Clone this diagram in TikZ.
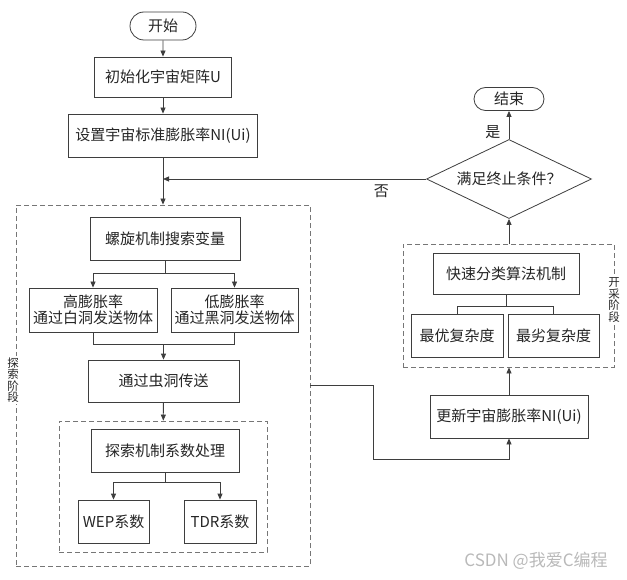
\documentclass[tikz,border=0pt]{standalone}
\usepackage{fontspec}
\setmainfont{Noto Sans CJK SC}
\usetikzlibrary{
  arrows.meta,
  positioning,
  shapes.geometric,
  shapes.misc
}
\definecolor{linegray}{RGB}{62,62,62}
\definecolor{dashgray}{RGB}{118,118,118}
\definecolor{textgray}{RGB}{38,38,38}

\begin{document}
\begin{tikzpicture}[x=1pt, y=-1pt, font=\fontsize{15}{16}\selectfont,
            procbox/.style={rectangle, draw=linegray, line width=0.8pt, fill=white, text=textgray, align=center, inner sep=2pt},
            termbox/.style={rounded rectangle, draw=linegray, line width=0.8pt, fill=white, text=textgray, inner sep=2pt},
            decision/.style={diamond, draw=linegray, line width=0.8pt, fill=white, text=textgray, aspect=2.1, inner sep=0pt},
            stagebox/.style={rectangle, draw=dashgray, line width=0.8pt, dash pattern=on 5pt off 3pt},
            stagelabel/.style={fill=white, text=textgray, font=\fontsize{11.5}{11.5}\selectfont, align=center, inner sep=1pt},
            arr/.style={draw=linegray, line width=0.8pt, -{Triangle[length=6pt, width=5pt]}},
            link/.style={draw=linegray, line width=0.8pt}]
            \useasboundingbox (0,0) rectangle (627,580);
            % main column
            \node [termbox, minimum width=70pt, minimum height=28pt] (start) at (163,26) {开始};
            \node [procbox, minimum width=137pt, minimum height=40pt] (init) at (163,77) {初始化宇宙矩阵U};
            \node [procbox, minimum width=189pt, minimum height=43pt] (setni) at (163,135.5) {设置宇宙标准膨胀率NI(Ui)};
            \node [decision, minimum width=165pt, minimum height=79pt] (cond) at (509,179) {满足终止条件？};
            \node [termbox, minimum width=74pt, minimum height=23pt] (stop) at (509,99) {结束};
            % exploration stage
            \node [stagebox, minimum width=294pt, minimum height=361pt] (explore) at (163,385.5) {};
            \node [stagelabel] (explorelbl) at (13,380) {探\\索\\阶\\段};
            \node [procbox, minimum width=150pt, minimum height=43pt] (spiral) at (165,238.5) {螺旋机制搜索变量};
            \node [procbox, minimum width=128pt, minimum height=44pt] (high) at (93,310) {高膨胀率\\通过白洞发送物体};
            \node [procbox, minimum width=127pt, minimum height=44pt] (low) at (234.5,310) {低膨胀率\\通过黑洞发送物体};
            \node [procbox, minimum width=151pt, minimum height=42pt] (worm) at (163.5,381) {通过虫洞传送};
            \node [stagebox, minimum width=208pt, minimum height=131pt] (coefgrp) at (163,486.5) {};
            \node [procbox, minimum width=148pt, minimum height=43pt] (coef) at (165,450.5) {探索机制系数处理};
            \node [procbox, minimum width=71pt, minimum height=43pt] (wep) at (113.5,521.5) {WEP系数};
            \node [procbox, minimum width=72pt, minimum height=43pt] (tdr) at (220,521.5) {TDR系数};
            % exploitation stage
            \node [stagebox, minimum width=211pt, minimum height=123pt] (exploit) at (508.5,305.5) {};
            \node [stagelabel] (exploitlbl) at (614,300) {开\\采\\阶\\段};
            \node [procbox, minimum width=146pt, minimum height=41pt] (quick) at (506,273.5) {快速分类算法机制};
            \node [procbox, minimum width=92pt, minimum height=43pt] (best) at (457,335.5) {最优复杂度};
            \node [procbox, minimum width=91pt, minimum height=43pt] (worst) at (553.5,335.5) {最劣复杂度};
            \node [procbox, minimum width=158pt, minimum height=43pt] (update) at (509,416.5) {更新宇宙膨胀率NI(Ui)};
            \node [text=gray!55, font=\fontsize{17}{18}\selectfont] (mark) at (536,561) {CSDN @我爱C编程};
            % connectors
            \draw [arr] (start) -- (init);
            \draw [arr] (init) -- (setni);
            \draw [arr] (setni) -- (explore);
            \coordinate (loopin) at (cond.west -| setni.south);
            \draw [arr] (cond.west) -- (loopin) node [pos=0.17, below=2pt, text=textgray] (nolbl) {否};
            \draw [arr] (cond) -- (stop) node [pos=0.25, left=5pt, text=textgray] (yeslbl) {是};
            \draw [link] (spiral.south) -- ++(0,13) coordinate (fork1);
            \draw [arr] (fork1) -| (high);
            \draw [arr] (fork1) -| (low);
            \draw [link] (high.south) -- ++(0,12) coordinate (join1) -| (low.south);
            \draw [arr] (join1 -| worm.north) -- (worm.north);
            \draw [arr] (worm) -- (coefgrp);
            \draw [link] (coef.south) -- ++(0,10) coordinate (fork2);
            \draw [arr] (fork2) -| (wep);
            \draw [arr] (fork2) -| (tdr);
            \draw [link] (quick.south) -- ++(0,12) coordinate (fork3);
            \draw [link] (fork3) -| (best);
            \draw [link] (fork3) -| (worst);
            \coordinate (detour) at (373,459);
            \draw [arr] (explore.east) -| (detour) -| (update.south);
            \draw [arr] (update.north) -- (update.north |- exploit.south);
            \draw [arr] (exploit.north -| cond.south) -- (cond.south);
        \end{tikzpicture}
\end{document}
